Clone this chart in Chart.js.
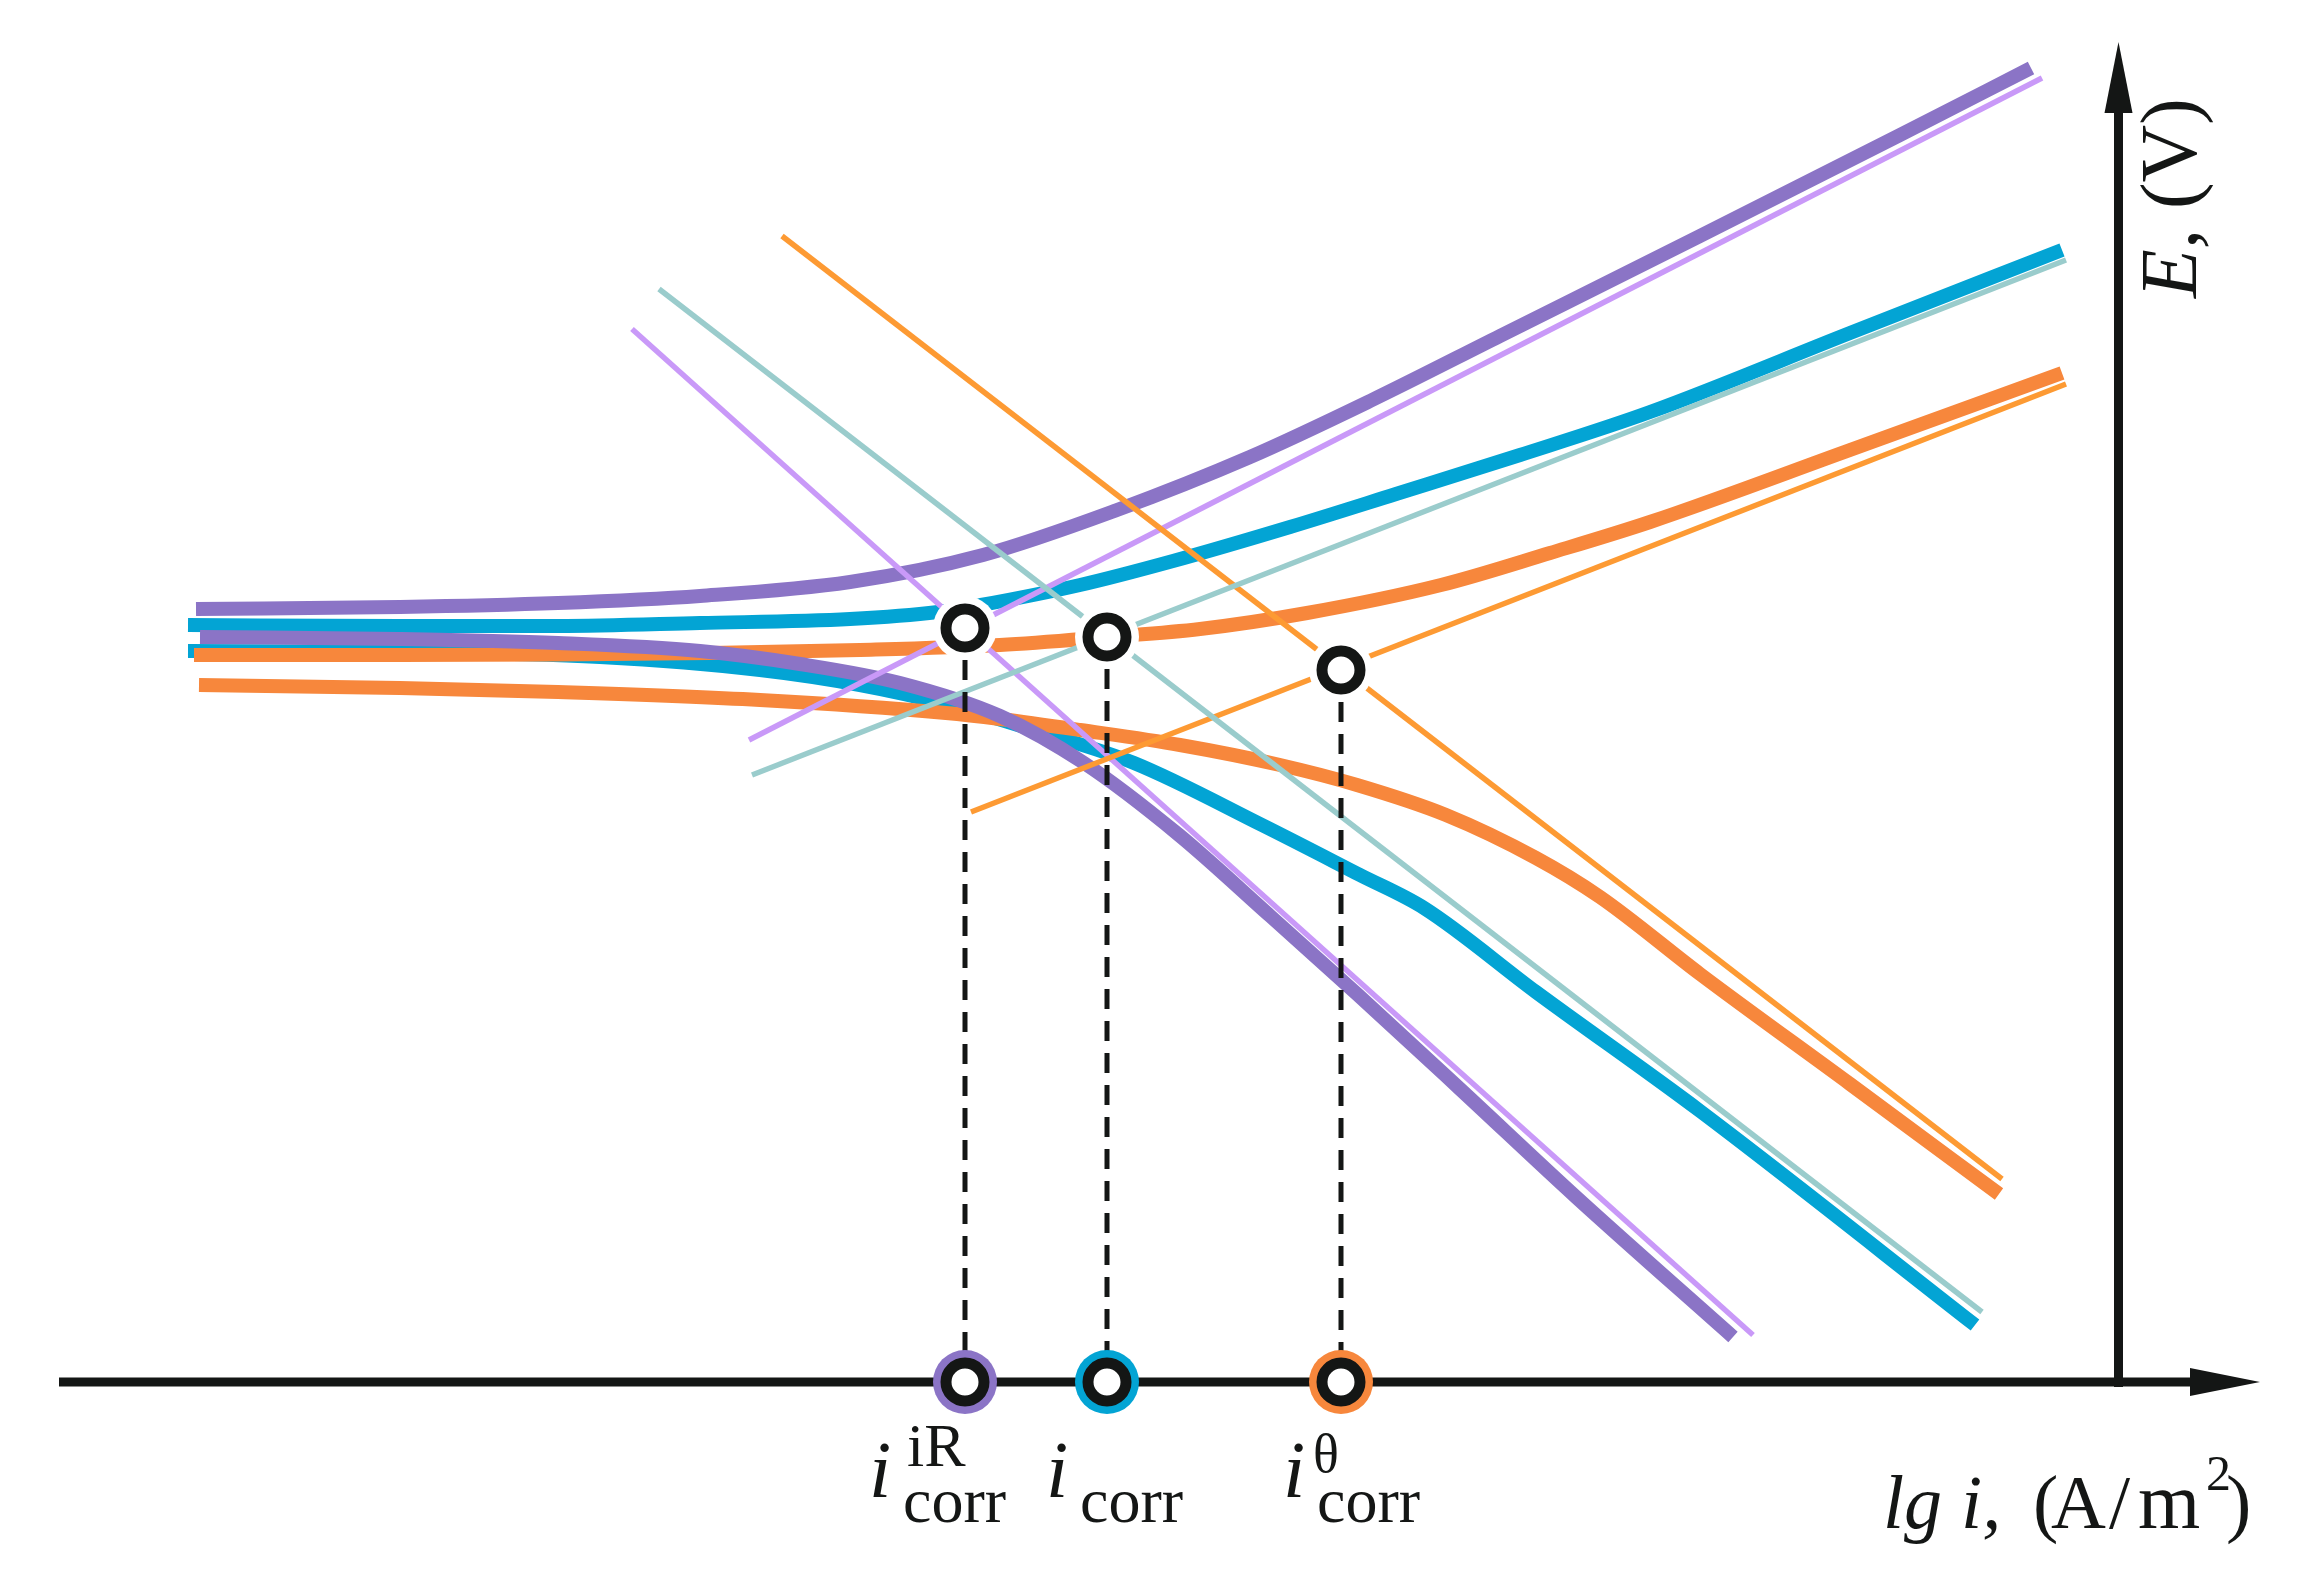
<!DOCTYPE html>
<html><head><meta charset="utf-8">
<script src="https://cdn.jsdelivr.net/npm/chart.js@4.4.1/dist/chart.umd.min.js"></script>
<style>html,body{margin:0;padding:0;background:#fff;overflow:hidden}canvas{display:block}</style>
</head><body>
<canvas id="c" width="2302" height="1577" style="width:2302px;height:1577px"></canvas>
<script>
// ---- Data (x = lg i, arbitrary units; y = E, arbitrary units) ----
const purpleAnodicX = [1.96,4.00,5.58,7.00,8.50,9.83,11.17,12.50,13.70,15.00,17.00,19.00,20.31];
const purpleAnodicE = [7.73,7.75,7.79,7.86,8.00,8.27,8.72,9.25,9.81,10.46,11.46,12.47,13.14];
const purpleCathodicX = [2.00,4.00,5.58,7.00,8.00,9.00,10.00,10.84,11.79,12.68,13.57,14.60,15.76,17.33];
const purpleCathodicE = [7.45,7.43,7.39,7.31,7.18,6.99,6.66,6.19,5.47,4.68,3.88,2.93,1.85,0.45];

const blueAnodicX = [1.88,4.00,5.58,7.00,8.50,9.38,9.81,10.80,11.73,12.90,13.96,15.20,16.50,18.50,20.62];
const blueAnodicE = [7.57,7.56,7.56,7.59,7.63,7.70,7.77,7.97,8.21,8.55,8.88,9.27,9.70,10.49,11.32];
const blueCathodicX = [1.88,4.00,6.00,7.60,8.60,9.46,10.40,11.34,12.62,13.60,14.24,15.36,17.00,19.75];
const blueCathodicE = [7.31,7.30,7.25,7.12,6.97,6.78,6.50,6.19,5.57,5.07,4.74,3.90,2.71,0.57];

const orangeAnodicX = [1.94,4.00,5.58,7.11,8.60,10.00,11.07,12.00,13.07,14.41,15.50,16.50,18.50,20.62];
const orangeAnodicE = [7.27,7.27,7.275,7.29,7.32,7.37,7.45,7.53,7.69,7.97,8.29,8.60,9.32,10.09];
const orangeCathodicX = [1.99,4.00,5.58,7.60,9.46,10.00,10.80,11.80,12.80,13.57,14.46,15.36,16.00,17.00,18.50,19.99];
const orangeCathodicE = [6.97,6.94,6.90,6.82,6.69,6.63,6.52,6.37,6.17,5.97,5.67,5.24,4.85,4.08,2.98,1.88];

// Tafel straight lines (two end points each)
const purpleTafelAnodicX = [7.49,20.42],   purpleTafelAnodicE = [6.42,13.04];
const purpleTafelCathodicX = [6.32,17.53], purpleTafelCathodicE = [10.53,0.47];
const blueTafelAnodicX = [7.52,20.66],     blueTafelAnodicE = [6.07,11.22];
const blueTafelCathodicX = [6.59,19.82],   blueTafelCathodicE = [10.93,0.70];
const orangeTafelAnodicX = [9.71,20.66],   orangeTafelAnodicE = [5.70,9.98];
const orangeTafelCathodicX = [7.82,20.02], orangeTafelCathodicE = [11.46,2.03];

// Corrosion points (iR, plain, theta)
const corrLabels = ['iR', '', 'θ'];
const corrLgI = [9.65, 11.07, 13.41];
const corrE = [7.54, 7.45, 7.12];

// Axis extents
const axisXRange = [0.59, 21.90];   // horizontal axis shaft (E = 0)
const axisXTip = 22.60;
const axisEPos = 21.185;            // vertical axis position
const axisERange = [-0.05, 12.69];
const axisETip = 13.40;

const xLabel = ['lg i,', '(A/m', '2', ')'];
const yLabel = ['E,', ' (V)'];

// ---- Styles ----
const COL = {
  purple: '#8b74c6', purpleThin: '#c999f8',
  blue: '#03a4d4', blueThin: '#9acccc',
  orange: '#f7873c', orangeThin: '#fd9a33',
  ink: '#141615'
};
const THICK = 14, THIN = 5.5;

function pts(xs, ys){ return xs.map((x,i)=>({x:x, y:ys[i]})); }
function curve(xs, ys, color, order){
  return {data: pts(xs, ys), showLine: true, borderColor: color, borderWidth: THICK,
    pointRadius: 0, cubicInterpolationMode: 'monotone', order: order, borderJoinStyle: 'round'};
}
function tafel(xs, ys, color){
  return {data: pts(xs, ys), showLine: true, borderColor: color, borderWidth: THIN,
    pointRadius: 0, tension: 0, order: 4};
}

const datasets = [];
// axes
datasets.push({data: pts(axisXRange, [0,0]), showLine: true, borderColor: COL.ink, borderWidth: 9, pointRadius: 0, order: 9});
datasets.push({data: pts([axisEPos, axisEPos], axisERange), showLine: true, borderColor: COL.ink, borderWidth: 9, pointRadius: 0, order: 9});
// thick curves
datasets.push(curve(blueAnodicX, blueAnodicE, COL.blue, 7));
datasets.push(curve(blueCathodicX, blueCathodicE, COL.blue, 7));
datasets.push(curve(orangeAnodicX, orangeAnodicE, COL.orange, 6));
datasets.push(curve(orangeCathodicX, orangeCathodicE, COL.orange, 6));
datasets.push(curve(purpleAnodicX, purpleAnodicE, COL.purple, 5));
datasets.push(curve(purpleCathodicX, purpleCathodicE, COL.purple, 5));
// thin Tafel lines
datasets.push(tafel(blueTafelAnodicX, blueTafelAnodicE, COL.blueThin));
datasets.push(tafel(blueTafelCathodicX, blueTafelCathodicE, COL.blueThin));
datasets.push(tafel(orangeTafelAnodicX, orangeTafelAnodicE, COL.orangeThin));
datasets.push(tafel(orangeTafelCathodicX, orangeTafelCathodicE, COL.orangeThin));
datasets.push(tafel(purpleTafelAnodicX, purpleTafelAnodicE, COL.purpleThin));
datasets.push(tafel(purpleTafelCathodicX, purpleTafelCathodicE, COL.purpleThin));
// dashed drop lines
corrLgI.forEach((x,i)=>{
  datasets.push({data: pts([x,x],[corrE[i],0]), showLine: true, borderColor: COL.ink, borderWidth: 5,
    borderDash: [20,12], pointRadius: 0, order: 3});
});
// halos and colored discs
datasets.push({data: pts(corrLgI, corrE), showLine: false, pointRadius: 32, pointBorderWidth: 0,
  pointBackgroundColor: '#ffffff', pointBorderColor: '#ffffff', order: 2});
datasets.push({data: pts(corrLgI, corrLgI.map(()=>0)), showLine: false, pointRadius: 32, pointBorderWidth: 0,
  pointBackgroundColor: [COL.purple, COL.blue, COL.orange], pointBorderColor: [COL.purple, COL.blue, COL.orange], order: 2});
// black rings
datasets.push({data: pts(corrLgI, corrE).concat(pts(corrLgI, corrLgI.map(()=>0))), showLine: false,
  pointRadius: 19, pointBorderWidth: 11, pointBackgroundColor: '#ffffff', pointBorderColor: COL.ink, order: 1});

const decor = {
  id: 'decor',
  afterDatasetsDraw(chart){
    const ctx = chart.ctx, xs = chart.scales.x, ys = chart.scales.y;
    const y0 = ys.getPixelForValue(0);
    ctx.save();
    ctx.fillStyle = COL.ink;
    // horizontal arrow head
    const hb = xs.getPixelForValue(axisXRange[1]), ht = xs.getPixelForValue(axisXTip);
    ctx.beginPath(); ctx.moveTo(ht, y0); ctx.lineTo(hb, y0-14); ctx.lineTo(hb, y0+14); ctx.closePath(); ctx.fill();
    // vertical arrow head
    const vx = xs.getPixelForValue(axisEPos);
    const vb = ys.getPixelForValue(axisERange[1]), vt = ys.getPixelForValue(axisETip);
    ctx.beginPath(); ctx.moveTo(vx, vt); ctx.lineTo(vx-14, vb); ctx.lineTo(vx+14, vb); ctx.closePath(); ctx.fill();

    const F = "'Liberation Serif', 'DejaVu Serif', serif";
    ctx.textBaseline = 'alphabetic'; ctx.textAlign = 'left';
    // corrosion labels
    corrLgI.forEach((x,i)=>{
      const px = xs.getPixelForValue(x);
      const sup = corrLabels[i];
      const off = sup === 'iR' ? -96 : (sup === '' ? -61 : -58);
      ctx.font = 'italic 80px ' + F;
      ctx.fillText('i', px + off, y0 + 115);
      ctx.font = '64px ' + F;
      ctx.fillText('corr', px + off + 34, y0 + 140);
      if (sup === 'iR') { ctx.font = '62px ' + F; ctx.fillText(sup, px + off + 38, y0 + 84); }
      else if (sup) { ctx.font = '54px ' + F; ctx.fillText(sup, px + off + 30, y0 + 90); }
    });
    // x-axis title
    ctx.font = 'italic 76px ' + F;
    ctx.fillText(xLabel[0], 1883, y0 + 146);
    ctx.font = '76px ' + F;
    ctx.fillText('(', 2033, y0 + 146);
    ctx.fillText('A', 2051, y0 + 146);
    ctx.fillText('/', 2109, y0 + 146);
    ctx.font = '80px ' + F;
    ctx.fillText('m', 2138, y0 + 146);
    ctx.font = '50px ' + F;
    ctx.fillText(xLabel[2], 2206, y0 + 108);
    ctx.font = '76px ' + F;
    ctx.fillText(xLabel[3], 2226, y0 + 146);
    // y-axis title (rotated)
    ctx.translate(vx + 77, 198);
    ctx.rotate(-Math.PI/2);
    ctx.font = 'italic 80px ' + F;
    const w1 = ctx.measureText(yLabel[0]).width;
    ctx.font = '80px ' + F;
    const w2 = ctx.measureText(yLabel[1]).width;
    const s = -(w1 + w2)/2;
    ctx.font = 'italic 80px ' + F;
    ctx.fillText(yLabel[0], s, 0);
    ctx.font = '80px ' + F;
    ctx.fillText(yLabel[1], s + w1, 0);
    ctx.restore();
  }
};

new Chart(document.getElementById('c'), {
  type: 'scatter',
  data: {datasets: datasets},
  options: {
    responsive: false, animation: false, devicePixelRatio: 1, events: [],
    layout: {padding: 0, autoPadding: false},
    plugins: {legend: {display: false}, tooltip: {enabled: false}},
    scales: {
      x: {type: 'linear', display: false, min: 0, max: 23.02},
      y: {type: 'linear', display: false, min: -1.95, max: 13.82}
    }
  },
  plugins: [decor]
});
</script>
</body></html>
